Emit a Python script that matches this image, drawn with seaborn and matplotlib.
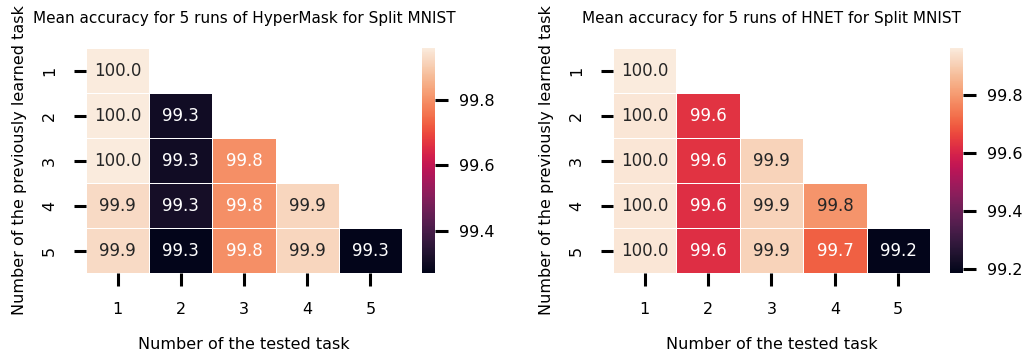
import numpy as np
import seaborn as sns
import matplotlib
matplotlib.use("Agg")
import matplotlib.pyplot as plt

tasks = [1, 2, 3, 4, 5]
nan = np.nan

# mean accuracy, rows = previously learned task, cols = tested task
hypermask_acc = [
    [99.96, nan, nan, nan, nan],
    [99.96, 99.30, nan, nan, nan],
    [99.96, 99.30, 99.80, nan, nan],
    [99.93, 99.31, 99.80, 99.92, nan],
    [99.93, 99.27, 99.80, 99.92, 99.27],
]
hnet_acc = [
    [99.96, nan, nan, nan, nan],
    [99.95, 99.63, nan, nan, nan],
    [99.95, 99.63, 99.91, nan, nan],
    [99.95, 99.62, 99.91, 99.79, nan],
    [99.95, 99.62, 99.91, 99.70, 99.186],
]
titles = ["Mean accuracy for 5 runs of HyperMask for Split MNIST",
          "Mean accuracy for 5 runs of HNET for Split MNIST"]

fig = plt.figure(figsize=(10.3, 3.52), dpi=100)
ax_pos = [[0.0835, 0.2244, 0.3068, 0.639], [0.5951, 0.2244, 0.3078, 0.639]]
cb_pos = [[0.4097, 0.2244, 0.0126, 0.639], [0.9223, 0.2244, 0.0126, 0.639]]

for data, title, ap, cp in zip([hypermask_acc, hnet_acc], titles, ax_pos, cb_pos):
    ax = fig.add_axes(ap)
    cax = fig.add_axes(cp)
    sns.heatmap(np.array(data), ax=ax, cbar_ax=cax, annot=True, fmt=".1f",
                cmap="rocket", linewidths=0.7, linecolor="white",
                xticklabels=tasks, yticklabels=tasks,
                annot_kws={"fontsize": 12})
    ax.set_title(title, fontsize=11, pad=18)
    ax.set_xlabel("Number of the tested task", fontsize=11.5, labelpad=14)
    ax.set_ylabel("Number of the previously learned task", fontsize=11.5, labelpad=11)
    ax.tick_params(axis="both", length=9, width=2.2, labelsize=11.5, pad=12)
    plt.setp(ax.get_yticklabels(), rotation=90, va="center")
    plt.setp(ax.get_xticklabels(), rotation=0)
    cax.tick_params(length=9, width=2.2, labelsize=11.5, pad=8)
    cax.set_yticks([t for t in [99.2, 99.4, 99.6, 99.8]
                    if np.nanmin(data) <= t <= np.nanmax(data)])

fig.savefig("out.png", dpi=100)
